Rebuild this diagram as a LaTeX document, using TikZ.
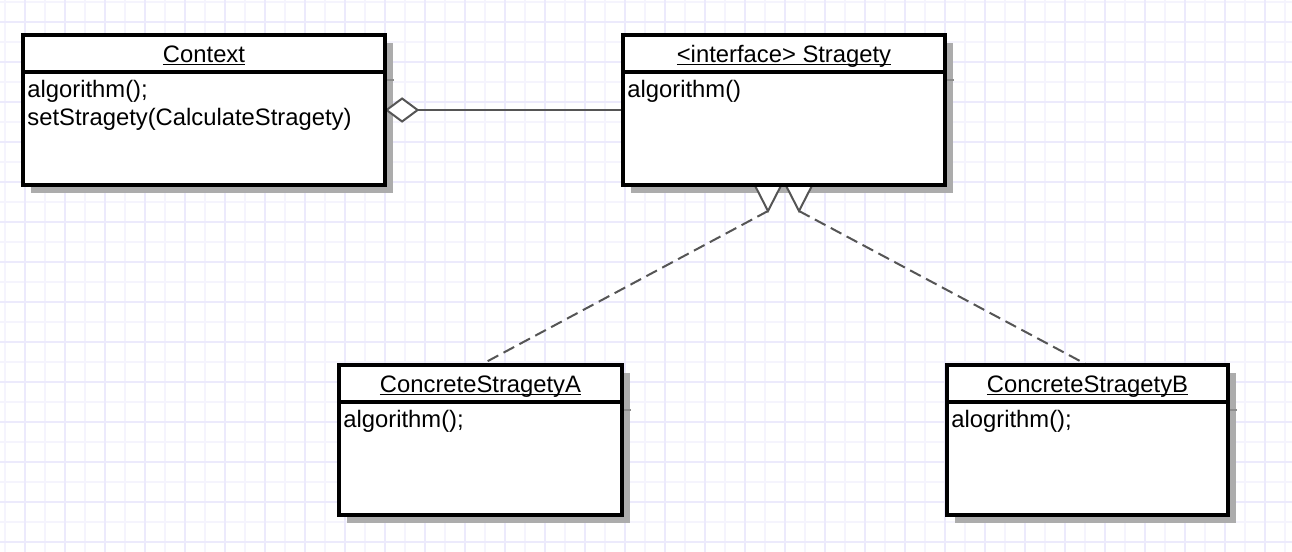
\documentclass[tikz,border=0pt]{standalone}
\usepackage{fontspec}
\setmainfont{Liberation Sans}
\usetikzlibrary{calc}
\pgfdeclarelayer{gridlayer}
\pgfdeclarelayer{shadowlayer}
\pgfdeclarelayer{connlayer}
\pgfsetlayers{gridlayer,shadowlayer,connlayer,main}
\definecolor{gridA}{RGB}{236,234,252}
\definecolor{gridB}{RGB}{245,244,253}
\definecolor{shadowc}{RGB}{172,172,172}
\definecolor{shadowd}{RGB}{140,140,140}
\definecolor{connc}{RGB}{85,85,85}
\newcommand{\ulx}[1]{\underline{\smash{#1}}}
\begin{document}
\begin{tikzpicture}[x=0.5pt,y=-0.5pt,
  font=\fontsize{11.9pt}{14pt}\selectfont,
  umlbox/.style={draw=black, fill=white, line width=1.65pt, inner sep=0pt, outer sep=0pt, anchor=north west, minimum height=75pt},
  divider/.style={line width=1.65pt},
  shade/.style={fill=shadowc},
  shadetick/.style={draw=shadowd, line width=1pt},
  title/.style={anchor=base, inner sep=0pt},
  body/.style={anchor=base west, inner sep=0pt},
  assoc/.style={draw=connc, line width=1pt},
  realize/.style={draw=connc, line width=1pt, dash pattern=on 6pt off 3pt},
  tri/.style={draw=connc, line width=1pt, line join=miter},
  gridmajor/.style={draw=gridA, line width=1pt},
  gridminor/.style={draw=gridB, line width=1pt}
]
\useasboundingbox (0,0) rectangle (1292,552);
\begin{pgfonlayer}{gridlayer}
  \fill[white] (0,0) rectangle (1292,552);
  \foreach \x in {5,45,...,1285} \draw[gridminor] (\x,0) -- (\x,552);
  \foreach \y in {2,42,...,552} \draw[gridminor] (0,\y) -- (1292,\y);
  \foreach \x in {25,65,...,1285} \draw[gridmajor] (\x,0) -- (\x,552);
  \foreach \y in {22,62,...,552} \draw[gridmajor] (0,\y) -- (1292,\y);
\end{pgfonlayer}

% boxes
\node[umlbox, minimum width=181pt] (ctx) at (23,35) {};
\node[umlbox, minimum width=161pt] (str) at (623,35) {};
\node[umlbox, minimum width=141.5pt] (ca) at (339,365) {};
\node[umlbox, minimum width=140.5pt] (cb) at (947,365) {};

% shadows
\begin{pgfonlayer}{shadowlayer}
  \foreach \b in {ctx,str,ca,cb} {
    \fill[shade] ($(\b.north west)+(8,8)$) rectangle ($(\b.south east)+(8,8)$);
    \draw[shadetick] ($(\b.north east)+(0,45)$) -- ++(9,0);
  }
\end{pgfonlayer}

% dividers
\foreach \b in {ctx,str,ca,cb}
  \draw[divider] ($(\b.north west)+(0,37)$) -- ($(\b.north east)+(0,37)$);

% texts
\node[title] (ctxT) at ($(ctx.north)+(0,27)$) {\ulx{Context}};
\node[body] (ctxM1) at ($(ctx.north west)+(4,62)$) {algorithm();};
\node[body] (ctxM2) at ($(ctx.north west)+(4,90)$) {setStragety(CalculateStragety)};

\node[title] (strT) at ($(str.north)+(0,27)$) {\ulx{<interface> Stragety}};
\node[body] (strM1) at ($(str.north west)+(4,62)$) {algorithm()};

\node[title] (caT) at ($(ca.north)+(0,27)$) {\ulx{ConcreteStragetyA}};
\node[body] (caM1) at ($(ca.north west)+(4,62)$) {algorithm();};

\node[title] (cbT) at ($(cb.north)+(0,27)$) {\ulx{ConcreteStragetyB}};
\node[body] (cbM1) at ($(cb.north west)+(4,62)$) {alogrithm();};

% connectors
\begin{pgfonlayer}{connlayer}
  % aggregation
  \coordinate (dL) at ($(ctx.east)+(1.6,0)$);
  \coordinate (dR) at ($(dL)+(31,0)$);
  \draw[assoc] (dR) -- (str.west);
  \filldraw[assoc, fill=white] (dL) -- ++(15.5,-11.5) -- (dR) -- ++(-15.5,11.5) -- cycle;
  % realizations
  \coordinate (tA) at ($(str.south)+(-16,26)$);
  \coordinate (tB) at ($(str.south)+(15,26)$);
  \draw[realize] (tA) -- (ca.north);
  \draw[realize] (tB) -- (cb.north);
  \coordinate (tA1) at ($(str.south)+(-28.5,1.6)$);
  \coordinate (tA2) at ($(str.south)+(-3.5,1.6)$);
  \coordinate (tB1) at ($(str.south)+(2.5,1.6)$);
  \coordinate (tB2) at ($(str.south)+(27.5,1.6)$);
  \fill[white] (tA1) -- (tA) -- (tA2) -- cycle;
  \fill[white] (tB1) -- (tB) -- (tB2) -- cycle;
  \draw[tri] (tA1) -- (tA) -- (tA2);
  \draw[tri] (tB1) -- (tB) -- (tB2);
\end{pgfonlayer}
\end{tikzpicture}
\end{document}
